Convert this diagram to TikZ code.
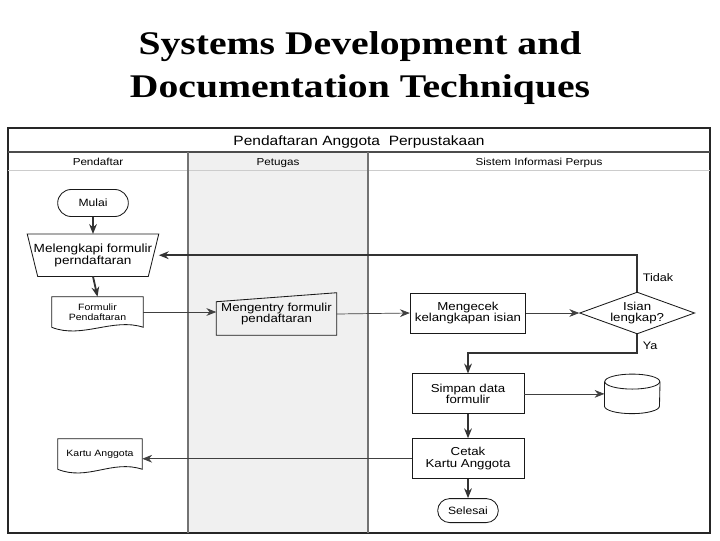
\documentclass[tikz,border=0pt]{standalone}
\usepackage{fontspec}
\setmainfont{Liberation Sans}[FakeStretch=1.15]
\newfontfamily\titlefont{Liberation Serif}[FakeStretch=1.2]
\usetikzlibrary{
    arrows.meta,
    positioning,
    shapes.geometric,
    shapes.misc,
    calc
}

% outlines for the shapes that TikZ has no ready shape for
\newcommand{\docshape}[1]{%
  \draw[outline] (#1.south west) -- (#1.north west) -- (#1.north east) -- (#1.south east)
    .. controls +(-30,-10) and +(30,12) .. (#1.south west);}
\newcommand{\manualshape}[1]{%
  \draw[outline, fill=white] (#1.north west) -- (#1.north east) -- ($(#1.south east)+(-10.5,0)$)
    -- ($(#1.south west)+(10.5,0)$) -- cycle;}
\newcommand{\entryshape}[1]{%
  \draw[outline] (#1.south west) -- ($(#1.north west)+(0,9)$) -- (#1.north east) -- (#1.south east) -- cycle;}
\newcommand{\dbshape}[1]{%
  \draw[outline, fill=white] ($(#1.north west)+(0,7.5)$) -- ($(#1.south west)+(0,-7.5)$)
    arc[start angle=180, end angle=0, x radius=27.5, y radius=7.5] -- ($(#1.north east)+(0,7.5)$);
  \draw[outline] ($(#1.north)+(0,7.5)$) ellipse[x radius=27.5, y radius=7.5];}

\begin{document}
\begin{tikzpicture}[
    x=0.025cm, y=-0.025cm,
    titletext/.style={anchor=base, inner sep=0pt, font=\titlefont\bfseries\fontsize{23.5}{28}\selectfont},
    outline/.style={draw=black!90, line width=0.6pt},
    lane/.style={draw=black!55, line width=1pt},
    hdr/.style={anchor=base, font=\fontsize{7.2}{8}\selectfont},
    proc/.style={rectangle, outline, fill=white, minimum width=2.8cm, minimum height=1cm, align=center, font=\fontsize{8.2}{8.4}\selectfont},
    term/.style={rounded rectangle, outline, fill=white, minimum width=2cm, minimum height=0.675cm, font=\fontsize{7.5}{8.5}\selectfont},
    manual/.style={rectangle, minimum width=3.275cm, minimum height=1.05cm, align=center, font=\fontsize{8.4}{8.6}\selectfont},
    doc/.style={rectangle, minimum width=2.275cm, minimum height=0.75cm, align=center, font=\fontsize{6.5}{7}\selectfont},
    entry/.style={rectangle, minimum width=2.975cm, minimum height=1.05cm, align=center, font=\fontsize{8.2}{8.4}\selectfont},
    decision/.style={diamond, outline, fill=white, aspect=2.75, inner sep=0pt, minimum width=2.75cm, minimum height=1cm, align=center, font=\fontsize{8.2}{8.2}\selectfont},
    store/.style={rectangle, minimum width=1.375cm, minimum height=0.975cm},
    flow/.style={-{Stealth[length=7pt, width=5.5pt]}, line width=1.3pt, draw=black!80},
    thinflow/.style={-{Stealth[length=7pt, width=5.5pt]}, line width=0.5pt, draw=black!75},
    lbl/.style={font=\fontsize{7.8}{8}\selectfont}
]
\useasboundingbox (0,0) rectangle (720,540);
\fill[white] (0,0) rectangle (720,540);

\node[titletext] (title1) at (360,54) {Systems Development and};
\node[titletext] (title2) at (360,97) {Documentation Techniques};

% pool and lanes
\fill[black!6] (188,152) rectangle (368,533);
\draw[black!85, line width=1pt] (8,128) rectangle (710,533);
\draw[black!70, line width=0.8pt] (8,152) -- (710,152);
\draw[black!20, line width=0.5pt] (8,170) -- (710,170);
\draw[lane] (188,152) -- (188,533);
\draw[lane] (368,152) -- (368,533);
\node[anchor=base, font=\fontsize{9.6}{10}\selectfont] (pool) at (359,145) {Pendaftaran Anggota\ \ Perpustakaan};
\node[hdr] (pendaftar) at (98,165) {Pendaftar};
\node[hdr] (petugas) at (278,165) {Petugas};
\node[hdr] (sistem) at (539,165) {Sistem Informasi Perpus};

% nodes
\node[term] (mulai) at (93,203) {Mulai};
\node[manual, below=0.425cm of mulai] (lengkap) {};
\manualshape{lengkap}
\node[manual] (lengkaptext) at (lengkap) {Melengkapi formulir\\perndaftaran};
\node[doc] (formulir) at (97.5,312) {Formulir\\Pendaftaran};
\node[entry] (entry) at (276.5,314) {Mengentry formulir\\pendaftaran};
\node[proc] (cek) at (468,313) {Mengecek\\kelangkapan isian};
\node[decision, right=1.325cm of cek] (isian) {Isian\\lengkap?};
\node[proc, below=1cm of cek] (simpan) {Simpan data\\formulir};
\node[store, right=2cm of simpan] (db) {};
\node[proc, below=0.6cm of simpan] (cetak) {Cetak\\Kartu Anggota};
\node[term, below=0.475cm of cetak, minimum width=1.75cm, minimum height=0.6cm] (selesai) {Selesai};
\node[doc, minimum width=2.1cm] (kartu) at (100,454) {Kartu Anggota};

\docshape{formulir}
\docshape{kartu}
\entryshape{entry}
\dbshape{db}

% connectors
\draw[flow] (mulai) -- (lengkap);
\draw[flow] (lengkap.south) -- (formulir.north);
\draw[thinflow] (formulir.east) -- (formulir.east -| entry.west);
\draw[thinflow] (entry.west -| entry.east) -- (cek.west);
\draw[thinflow] (cek) -- (isian);
\draw[flow] (isian.north) |- node[lbl, pos=0.2, right=0pt] {Tidak} (lengkap.east);
\draw[flow] (isian.south) -- ++(0,19) node[lbl, pos=0.6, right=0pt] {Ya} -| (simpan.north);
\draw[thinflow] (simpan) -- (db);
\draw[flow] (simpan) -- (cetak);
\draw[thinflow] (cetak.west) -- (cetak.west -| kartu.east);
\draw[flow] (cetak) -- (selesai);
\end{tikzpicture}
\end{document}
